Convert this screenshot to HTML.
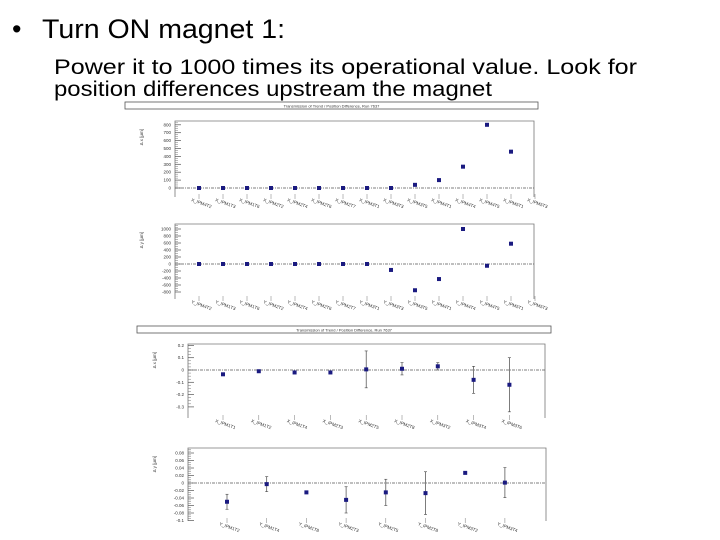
<!DOCTYPE html>
<html><head><meta charset="utf-8"><style>
html,body{margin:0;padding:0;background:#fff;}
svg{display:block;font-family:"Liberation Sans",sans-serif;}
</style></head><body>
<svg id="s" width="720" height="540" viewBox="0 0 720 540">
<text x="12" y="38" font-size="27">•</text>
<text x="42" y="38" font-size="27" textLength="243" lengthAdjust="spacingAndGlyphs">Turn ON magnet 1:</text>
<text x="54" y="74" font-size="21" textLength="583" lengthAdjust="spacingAndGlyphs">Power it to 1000 times its operational value. Look for</text>
<text x="54" y="96" font-size="21" textLength="438" lengthAdjust="spacingAndGlyphs">position differences upstream the magnet</text>
</svg>
<script>
const NS="http://www.w3.org/2000/svg";
const svg=document.getElementById('s');
// data
const p1Values=[0,0,0,0,0,0,0,0,0,40,100,270,800,460];
const p1Labels=["X_IPM4T2","X_IPM1T3","X_IPM1T6","X_IPM2T2","X_IPM2T4","X_IPM2T6","X_IPM2T7","X_IPM3T1","X_IPM3T3","X_IPM3T5","X_IPM4T1","X_IPM4T4","X_IPM4T5","X_IPM5T1","X_IPM5T3"];
const p1Ticks=[0,100,200,300,400,500,600,700,800];
const p2Values=[0,0,0,0,0,0,0,0,-170,-750,-430,1000,-50,580];
const p2Labels=["Y_IPM4T2","Y_IPM1T3","Y_IPM1T6","Y_IPM2T2","Y_IPM2T4","Y_IPM2T6","Y_IPM2T7","Y_IPM3T1","Y_IPM3T3","Y_IPM3T5","Y_IPM4T1","Y_IPM4T4","Y_IPM4T5","Y_IPM5T1","Y_IPM5T3"];
const p2Ticks=[-800,-600,-400,-200,0,200,400,600,800,1000];
const p3Values=[-0.035,-0.01,-0.02,-0.02,0.005,0.01,0.03,-0.08,-0.12];
const p3Errors=[0.01,0.01,0.005,0.01,0.15,0.05,0.03,0.11,0.22];
const p3Labels=["X_IPM1T1","X_IPM1T2","X_IPM1T4","X_IPM2T3","X_IPM2T5","X_IPM2T8","X_IPM3T2","X_IPM3T4","X_IPM3T6"];
const p3Ticks=[-0.3,-0.2,-0.1,0,0.1,0.2];
const p4Values=[-0.05,-0.003,-0.025,-0.045,-0.025,-0.027,0.027,0.001];
const p4Errors=[0.02,0.02,0.002,0.035,0.035,0.057,0.002,0.04];
const p4Labels=["Y_IPM1T2","Y_IPM1T4","Y_IPM1T8","Y_IPM2T3","Y_IPM2T5","Y_IPM2T8","Y_IPM3T2","Y_IPM3T4"];
const p4Ticks=[-0.1,-0.08,-0.06,-0.04,-0.02,0,0.02,0.04,0.06,0.08];

function el(t,a,parent){const e=document.createElementNS(NS,t);for(const k in a)e.setAttribute(k,a[k]);(parent||svg).appendChild(e);return e;}

function panel(cfg){
  const g=el('g',{});
  
  
  const L=cfg.left,R=cfg.right,T=cfg.top,B=cfg.bottom;
  const y=v=>cfg.y0+(v)*cfg.ys;
  const x=i=>cfg.x0+i*cfg.dx;
  if(cfg.title){const tb=el('rect',{x:cfg.title[0],y:cfg.title[1],width:cfg.title[2],height:7,fill:'#fff',stroke:'#555','stroke-width':0.8},g);
    
    const tt=el('text',{x:cfg.title[0]+cfg.title[2]/2,y:cfg.title[1]+5.5,'font-size':4,'text-anchor':'middle',fill:'#333'},g);tt.textContent='Transmission of Trend / Position Difference, Run 7637';
    }
  const fr=el('path',{d:`M${L},${B} L${L},${T} L${R},${T} L${R},${B}`,fill:'none',stroke:'#777','stroke-width':0.8},g);
  
  const zl=el('line',{x1:L,x2:R,y1:y(0),y2:y(0),stroke:'#555','stroke-width':0.7,'stroke-dasharray':'3,1,1,1'},g);
  
  const yt=el('text',{x:0,y:0,'font-size':4.5,fill:'#444',transform:`translate(${L-32},${T+8}) rotate(-90)`,'text-anchor':'end'},g);
  yt.textContent=cfg.ytitle;
  cfg.ticks.forEach(v=>{
    const ty=y(v);
    el('line',{x1:L,x2:L+6,y1:ty,y2:ty,stroke:'#555','stroke-width':0.7},g);
    for(let k=1;k<4;k++){const my=ty-k*cfg.ys*cfg.step/4*-1; if(my>T&&my<B) el('line',{x1:L,x2:L+3,y1:my,y2:my,stroke:'#777','stroke-width':0.5},g);}
    const t=el('text',{x:L-4,y:ty+1.5,'font-size':4.5,'text-anchor':'end',fill:'#333'},g);
    t.textContent=String(v);
    
  });
  cfg.labels.forEach((s,i)=>{
    const lx=x(i);
    el('line',{x1:lx,x2:lx,y1:B-3,y2:B+2,stroke:'#777','stroke-width':0.5},g);
    const t=el('text',{x:0,y:0,'font-size':4.5,fill:'#333',transform:`translate(${lx-8},${B+4}) rotate(20)`},g);
    t.textContent=s;
  });
  cfg.values.forEach((v,i)=>{
    const px=x(i),py=y(v);
    if(cfg.errors){const e=cfg.errors[i];
      const eb=el('line',{x1:px,x2:px,y1:y(v+e),y2:y(v-e),stroke:'#444','stroke-width':0.7},g);
      
      el('line',{x1:px-1.5,x2:px+1.5,y1:y(v+e),y2:y(v+e),stroke:'#444','stroke-width':0.6},g);
      el('line',{x1:px-1.5,x2:px+1.5,y1:y(v-e),y2:y(v-e),stroke:'#444','stroke-width':0.6},g);}
    const r=el('rect',{x:px-2,y:py-2,width:4,height:4,fill:'#1a1a80'},g);
    
  });
}
panel({name:'x-difference-panel-1',left:175,right:534,top:121,bottom:197,y0:188,ys:-0.079,step:100,x0:199,dx:24,
  values:p1Values,labels:p1Labels,ticks:p1Ticks,ytitle:'Δ x [µm]',title:[125,102,413]});
panel({name:'y-difference-panel-1',left:175,right:534,top:224,bottom:299,y0:264,ys:-0.035,step:200,x0:199,dx:24,
  values:p2Values,labels:p2Labels,ticks:p2Ticks,ytitle:'Δ y [µm]'});
panel({name:'x-difference-panel-2',left:188,right:545,top:344,bottom:418,y0:370,ys:-123,step:0.1,x0:223,dx:35.8,
  values:p3Values,errors:p3Errors,labels:p3Labels,ticks:p3Ticks,ytitle:'Δ x [µm]',title:[137,326,414]});
panel({name:'y-difference-panel-2',left:188,right:546,top:448,bottom:521,y0:483,ys:-375,step:0.02,x0:227,dx:39.7,
  values:p4Values,errors:p4Errors,labels:p4Labels,ticks:p4Ticks,ytitle:'Δ y [µm]'});
</script>
</body></html>
